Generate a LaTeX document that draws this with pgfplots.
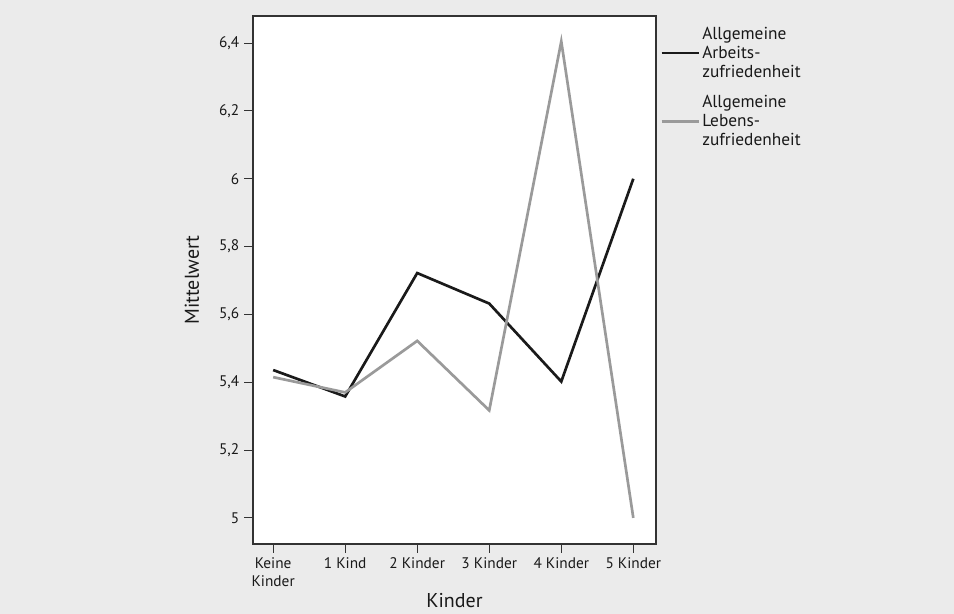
\documentclass[border=0pt]{standalone}
\usepackage{pgfplots}
\pgfplotsset{compat=1.18}
\usepackage{fontspec}
\setmainfont{PT Sans}
\definecolor{bg}{HTML}{EBEBEB}
\definecolor{darkline}{HTML}{1A1A1A}
\definecolor{grayline}{HTML}{9A9A9A}
\definecolor{frame}{HTML}{333333}
\begin{document}
\begin{tikzpicture}
\fill[bg] (0,0) rectangle (715.5pt,460.5pt);
\useasboundingbox (0,0) rectangle (715.5pt,460.5pt);
\begin{axis}[
  at={(189.75pt,52.5pt)}, anchor=south west,
  scale only axis, width=302.25pt, height=396pt,
  xmin=-0.28, xmax=5.315, ymin=4.923, ymax=6.48,
  axis background/.style={fill=white},
  axis line style={frame, line width=1pt},
  xtick={0,1,2,3,4,5},
  xticklabels={{Keine\\Kinder},{1 Kind},{2 Kinder},{3 Kinder},{4 Kinder},{5 Kinder}},
  ytick={5,5.2,5.4,5.6,5.8,6,6.2,6.4},
  yticklabel style={/pgf/number format/.cd, use comma, fixed, precision=1, assume math mode=true},
  tick align=outside, tick pos=left,
  major tick length=6.75pt,
  tick style={frame, line width=0.8pt},
  ticklabel style={font=\fontsize{11.5}{13.5}\selectfont, text=black!90},
  xticklabel style={align=center},
  xlabel={Kinder}, ylabel={Mittelwert},
  label style={font=\fontsize{15}{18}\selectfont, text=black!90},
  xlabel style={at={(axis description cs:0.5,0)}, anchor=base, yshift=-48pt},
  ylabel style={at={(axis description cs:-0.1514,0.5)}, anchor=center},
  legend style={draw=none, fill=none, at={(axis description cs:1,1)}, anchor=north west, xshift=0pt, yshift=-4.5pt,
    font=\fontsize{13}{14.25}\selectfont, row sep=9pt, nodes={align=left, inner sep=1.5pt, text=black!90}},
  legend cell align=left,
  legend image code/.code={\draw[#1] (0pt,0pt) -- (28pt,0pt);},
]
\addplot[darkline, line width=2pt] coordinates {(0,5.436) (1,5.358) (2,5.722) (3,5.632) (4,5.402) (5,6.0)};
\addlegendentry{Allgemeine\\Arbeits-\\zufriedenheit}
\addplot[grayline, line width=2pt] coordinates {(0,5.415) (1,5.37) (2,5.522) (3,5.317) (4,6.405) (5,5.0)};
\addlegendentry{Allgemeine\\Lebens-\\zufriedenheit}
\end{axis}
\end{tikzpicture}
\end{document}
